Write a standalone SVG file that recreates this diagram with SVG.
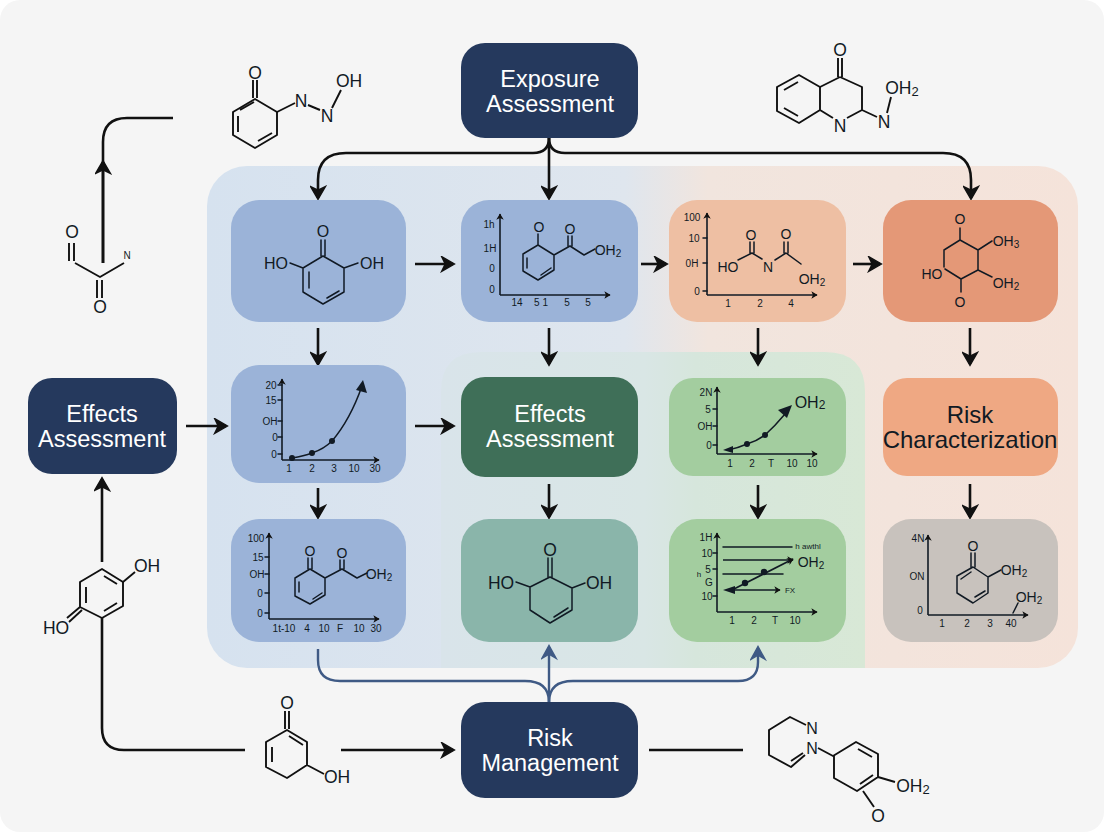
<svg xmlns="http://www.w3.org/2000/svg" width="1104" height="832" viewBox="0 0 1104 832">
<defs>
<linearGradient id="panelBack" x1="207" x2="1078" y1="0" y2="0" gradientUnits="userSpaceOnUse">
<stop offset="0" stop-color="#d6e2ef"/><stop offset="0.48" stop-color="#dfe6ee"/><stop offset="0.575" stop-color="#f1e5de"/><stop offset="1" stop-color="#f5e3da"/>
</linearGradient>
<linearGradient id="panelGreen" x1="441" x2="865" y1="0" y2="0" gradientUnits="userSpaceOnUse">
<stop offset="0" stop-color="#d9e4ea"/><stop offset="0.48" stop-color="#d9e6e5"/><stop offset="0.6" stop-color="#d6e6dc"/><stop offset="1" stop-color="#d8e8d6"/>
</linearGradient>
<marker id="arr" viewBox="0 0 12 12" refX="10" refY="6" markerWidth="7.5" markerHeight="7.5" orient="auto" markerUnits="userSpaceOnUse">
<path d="M1,0 L11,6 L1,12 L3.5,6 Z" fill="#111"/>
</marker>
<marker id="big" viewBox="0 0 12 12" refX="10" refY="6" markerWidth="17" markerHeight="17" orient="auto" markerUnits="userSpaceOnUse">
<path d="M2,0.8 L11,6 L2,11.2 L4.5,6 Z" fill="#111" stroke="#111" stroke-width="1"/>
</marker>
<marker id="blue" viewBox="0 0 12 12" refX="10" refY="6" markerWidth="17" markerHeight="17" orient="auto" markerUnits="userSpaceOnUse">
<path d="M2,1 L11,6 L2,11 L5,6 Z" fill="#3f5a85" stroke="#3f5a85"/>
</marker>
</defs>
<style>
text{font-family:"Liberation Sans",Arial,sans-serif;fill:#111a24;text-anchor:middle;dominant-baseline:central}
.b{fill:none;stroke:#111a24;stroke-width:1.5;stroke-linejoin:round;stroke-linecap:round}
.k{fill:none;stroke:#111;stroke-width:1.9;stroke-linejoin:round}
.ax{fill:none;stroke:#111a24;stroke-width:1.6;marker-end:url(#arr)}
.c{fill:none;stroke:#111;stroke-width:2.6;marker-end:url(#big)}
.cn{fill:none;stroke:#111;stroke-width:2.6}
.cb{fill:none;stroke:#3f5a85;stroke-width:2.4}
text.t{fill:#fff;font-size:23.5px}
.a{font-size:17.5px}.m{font-size:16px}.n{font-size:14px}.s{font-size:10px}.ss{font-size:8px}
.navy{fill:#25395d}.blu{fill:#9bb3d8}
</style>
<rect width="1104" height="832" fill="#ffffff"/>
<rect x="0" y="0" width="1104" height="832" rx="20" fill="#f5f5f5"/>
<rect id="panel-back" x="207" y="166" width="871" height="502" rx="40" fill="url(#panelBack)"/>
<path id="panel-green" d="M441,668 V392 Q441,352 481,352 H825 Q865,352 865,392 V668 Z" fill="url(#panelGreen)"/>

<g id="connectors">
<path class="c" d="M549,138 Q549,153 533,153 H346 Q318,153 318,180 V198"/>
<path class="c" d="M549,138 Q549,153 565,153 H943 Q971,153 971,180 V198"/>
<path class="c" d="M549,138 V198"/>
<path class="c" d="M415,264 H453"/><path class="c" d="M641,264 H666"/><path class="c" d="M853,264 H880"/>
<path class="c" d="M318,328 V364"/><path class="c" d="M549,328 V364"/><path class="c" d="M758,328 V364"/><path class="c" d="M970,328 V364"/>
<path class="c" d="M318,488 V517"/><path class="c" d="M549,484 V517"/><path class="c" d="M758,485 V517"/><path class="c" d="M970,484 V517"/>
<path class="c" d="M186,426 H226"/><path class="c" d="M415,426 H453"/>
<path class="cn" d="M173,118 H127 Q103,118 103,142 V263"/>
<path class="c" d="M103,263 V162"/>
<path class="c" d="M102,562 V479"/>
<path class="cn" d="M102,618 V728 Q102,750 124,750 H245"/>
<path class="c" d="M341,750 H453"/>
<path class="cn" d="M649,750 H743"/>
<path class="cb" d="M318,649 V660 Q318,681 340,681 H525 Q549,681 549,702"/>
<path class="cb" d="M549,702 Q549,681 573,681 H738 Q758,681 758,662 V648" marker-end="url(#blue)"/>
<path class="cb" d="M549,702 V647" marker-end="url(#blue)"/>
</g>

<g id="node-exposure"><rect class="navy" x="461" y="43" width="177" height="95" rx="24"/><text class="t" x="550" y="79">Exposure</text><text class="t" x="550" y="104">Assessment</text></g>
<g id="node-effects-left"><rect class="navy" x="28" y="378" width="149" height="96" rx="24"/><text class="t" x="102" y="414">Effects</text><text class="t" x="102" y="439">Assessment</text></g>
<g id="node-risk-management"><rect class="navy" x="461" y="702" width="177" height="96" rx="24"/><text class="t" x="550" y="738">Risk</text><text class="t" x="550" y="763">Management</text></g>

<g id="mol-top-left">
<path class="k" d="M253,80 V98 M257,80 V98 M255,99 L277,112 V135 L255,148 L233,135 V112 Z M238,116 V132 M240,110 L254,102 M258,141 L272,133 M277,112 L295,103 M308,105 L320,110 M332,108 L341,90"/>
<text class="a" x="255" y="73">O</text><text class="a" x="301" y="101">N</text><text class="a" x="327" y="116">N</text><text class="a" x="349" y="81">OH</text>
</g>
<g id="mol-left">
<path class="k" d="M69,243 V261 M74,243 V261 M75,263 L100,277 L124,263 M97,280 V298 M102,280 V298"/>
<text class="a" x="72" y="232">O</text><text class="s" x="127" y="255">N</text><text class="a" x="100" y="307">O</text>
</g>
<g id="mol-top-right">
<path class="k" d="M838,58 V77 M842,58 V77 M840,77 L862,87 V110 L847,118 M833,118 L820,110 V87 L840,77 M820,87 L799,75 L777,87 V111 L799,123 L820,110 M784,90 L798,82 M784,108 L798,116 M862,110 L877,117 M887,113 L891,97"/>
<text class="a" x="840" y="50">O</text><text class="a" x="840" y="126">N</text><text class="a" x="884" y="122">N</text><text class="a" x="902" y="88">OH<tspan font-size="13" dy="3">2</tspan></text>
</g>
<g id="mol-lower-left">
<path class="k" d="M102,569 L123,582 V606 L102,618 L80,607 V582 Z M86,587 V603 M104,576 L117,584 M104,611 L117,603 M123,582 L135,572 M80,607 L67,618 M82,610 L69,622"/>
<text class="a" x="147" y="566">OH</text><text class="a" x="56" y="628">HO</text>
</g>
<g id="mol-bottom">
<path class="k" d="M285,711 V729 M289,711 V729 M287,730 L307,742 V765 L287,778 L266,767 V742 Z M272,747 V762 M289,736 L303,745 M307,765 L324,774"/>
<text class="a" x="287" y="703">O</text><text class="a" x="337" y="777">OH</text>
</g>
<g id="mol-bottom-right">
<path class="k" d="M806,725 L790,717 L769,730 V755 L791,767 L805,755 M791,761 L803,753 M818,748 L833,756 L856,742 L878,754 V777 L857,791 L834,778 V756 M858,749 L872,757 M860,784 L873,775 M878,777 L895,782 M863,791 L874,807"/>
<text class="m" x="812" y="728">N</text><text class="m" x="812" y="748">N</text><text class="a" x="913" y="786">OH<tspan font-size="13" dy="3">2</tspan></text><text class="a" x="878" y="816">O</text>
</g>

<g id="node-1-1"><rect class="blu" x="231" y="200" width="175" height="122" rx="28"/>
<path class="b" d="M321,240 V256 M325,240 V256 M323,256 L344,268 V292 L323,304 L303,292 V268 Z M309,272 V288 M327,298 L339,291 M303,268 L290,263 M344,268 L358,263"/>
<text class="m" x="323" y="231">O</text><text class="m" x="276" y="263">HO</text><text class="m" x="372" y="263">OH</text></g>

<g id="node-1-2"><rect class="blu" x="461" y="200" width="177" height="122" rx="28"/>
<path class="ax" d="M500,295 V214"/><path class="ax" d="M500,295 H610"/>
<path class="b" d="M538,234 V245 M538,245 L554,255 V270 L538,280 L523,271 V254 Z M527,258 V268 M541,275 L551,268 M554,255 L570,246 L584,255 L595,249 M568,236 V246 M572,236 V246"/>
<text class="n" x="539" y="227">O</text><text class="n" x="570" y="229">O</text><text class="n" x="608" y="250">OH<tspan font-size="10" dy="3">2</tspan></text>
<text class="s" x="489" y="224">1h</text><text class="s" x="490" y="248">1H</text><text class="s" x="492" y="268">0</text><text class="s" x="492" y="289">0</text>
<text class="s" x="517" y="302">14</text><text class="s" x="541" y="302">5 1</text><text class="s" x="567" y="302">5</text><text class="s" x="588" y="302">5</text></g>

<g id="node-1-3"><rect x="669" y="200" width="177" height="122" rx="28" fill="#eebfa3"/>
<path class="ax" d="M707,295 V213"/><path class="ax" d="M707,295 H817"/>
<path class="b" d="M703,238 H707 M703,263 H707 M703,291 H707 M738,260 L752,253 L762,259 M750,242 V253 M754,242 V253 M775,260 L786,253 L801,264 M784,242 V253 M788,242 V253"/>
<text class="n" x="728" y="267">HO</text><text class="n" x="751" y="235">O</text><text class="n" x="768" y="267">N</text><text class="n" x="786" y="234">O</text><text class="n" x="812" y="279">OH<tspan font-size="10" dy="3">2</tspan></text>
<text class="s" x="692" y="217">100</text><text class="s" x="694" y="238">10</text><text class="s" x="692" y="263">0H</text><text class="s" x="697" y="291">0</text>
<text class="s" x="728" y="303">1</text><text class="s" x="760" y="303">2</text><text class="s" x="791" y="303">4</text></g>

<g id="node-1-4"><rect x="883" y="200" width="175" height="122" rx="28" fill="#e49877"/>
<path class="b" d="M960,228 V240 L978,250 V270 L961,279 L945,269 M944,267 V250 L960,240 M978,250 L992,241 M978,270 L992,277 M961,279 V292"/>
<text class="n" x="960" y="219">O</text><text class="n" x="1006" y="241">OH<tspan font-size="10" dy="3">3</tspan></text><text class="n" x="1006" y="283">OH<tspan font-size="10" dy="3">2</tspan></text><text class="n" x="932" y="274">HO</text><text class="n" x="960" y="302">O</text></g>

<g id="node-2-1"><rect class="blu" x="231" y="365" width="175" height="118" rx="28"/>
<path class="ax" d="M282,460 V379"/><path class="ax" d="M282,460 H379"/>
<path class="b" d="M278,385 H282 M278,400 H282 M278,421 H282 M278,437 H282 M278,454 H282"/>
<path class="b" d="M292,458 Q304,456 312,453 Q324,449 332,441 Q350,420 362,386"/>
<path d="M363,380 L367,393 L356,390 Z" fill="#111a24"/>
<circle cx="292" cy="458" r="3" fill="#111a24"/><circle cx="312" cy="453" r="3" fill="#111a24"/><circle cx="332" cy="441" r="3" fill="#111a24"/>
<text class="s" x="271" y="385">20</text><text class="s" x="271" y="400">15</text><text class="s" x="270" y="421">OH</text><text class="s" x="275" y="437">0</text><text class="s" x="274" y="454">0</text>
<text class="s" x="289" y="468">1</text><text class="s" x="312" y="468">2</text><text class="s" x="334" y="468">3</text><text class="s" x="354" y="468">10</text><text class="s" x="375" y="468">30</text></g>

<g id="node-2-2"><rect x="461" y="377" width="177" height="100" rx="24" fill="#3f6f58"/><text class="t" x="550" y="414">Effects</text><text class="t" x="550" y="439">Assessment</text></g>

<g id="node-2-3"><rect x="669" y="378" width="177" height="98" rx="24" fill="#a3cd9f"/>
<path class="ax" d="M717,454 V387"/><path class="ax" d="M717,454 H817"/>
<path class="b" d="M713,409 H717 M713,426 H717 M713,445 H717"/>
<path class="b" d="M728,450 Q738,448 747,444 Q757,441 765,435 Q775,426 785,414"/>
<path d="M792,405 L787,418 L778,410 Z" fill="#111a24"/>
<circle cx="747" cy="444" r="3" fill="#111a24"/><circle cx="765" cy="435" r="3" fill="#111a24"/><path d="M723,450 L733,446 L733,453 Z" fill="#111a24"/>
<text class="m" x="810" y="402">OH<tspan font-size="12" dy="3">2</tspan></text>
<text class="s" x="706" y="392">2N</text><text class="s" x="708" y="409">5</text><text class="s" x="705" y="426">OH</text><text class="s" x="709" y="445">0</text>
<text class="s" x="730" y="463">1</text><text class="s" x="752" y="463">2</text><text class="s" x="771" y="463">T</text><text class="s" x="792" y="463">10</text><text class="s" x="812" y="463">10</text></g>

<g id="node-2-4"><rect x="883" y="378" width="175" height="98" rx="24" fill="#efa883"/><text x="970" y="414" font-size="24">Risk</text><text x="970" y="439" font-size="24">Characterization</text></g>

<g id="node-3-1"><rect class="blu" x="231" y="519" width="175" height="123" rx="28"/>
<path class="ax" d="M269,619 V533"/><path class="ax" d="M269,619 H379"/>
<path class="b" d="M265,557 H269 M265,574 H269 M265,593 H269 M265,613 H269"/>
<path class="b" d="M308,558 V569 M312,558 V569 M310,569 L325,578 V595 L310,604 L295,596 V578 Z M299,582 V592 M313,599 L322,593 M325,578 L342,569 L357,578 L367,573 M340,560 V569 M344,560 V569"/>
<text class="n" x="310" y="551">O</text><text class="n" x="342" y="553">O</text><text class="n" x="379" y="574">OH<tspan font-size="10" dy="3">2</tspan></text>
<text class="s" x="256" y="538">100</text><text class="s" x="258" y="557">15</text><text class="s" x="257" y="574">OH</text><text class="s" x="260" y="593">0</text><text class="s" x="260" y="613">0</text>
<text class="s" x="284" y="628">1t-10</text><text class="s" x="307" y="628">4</text><text class="s" x="324" y="628">10</text><text class="s" x="340" y="628">F</text><text class="s" x="359" y="628">10</text><text class="s" x="376" y="628">30</text></g>

<g id="node-3-2"><rect x="461" y="519" width="177" height="123" rx="28" fill="#8ab5aa"/>
<path class="b" d="M548,558 V577 M552,558 V577 M550,577 L572,588 V610 L550,623 L530,610 V587 Z M554,617 L568,608 M530,587 L516,582 M572,588 L585,583"/>
<text class="a" x="550" y="550">O</text><text class="a" x="501" y="583">HO</text><text class="a" x="599" y="583">OH</text></g>

<g id="node-3-3"><rect x="669" y="519" width="177" height="123" rx="28" fill="#a3cd9f"/>
<path class="ax" d="M717,612 V533"/><path class="ax" d="M717,612 H817"/>
<path class="b" d="M713,553 H717 M713,569 H717 M713,596 H717 M723,547 H792 M723,574 H783"/>
<path class="ax" d="M723,560 H793"/><path class="ax" d="M731,590 H780"/><path d="M723,590 L735,586 V594 Z" fill="#111a24"/>
<path class="ax" d="M732,590 L793,559"/>
<circle cx="745" cy="583" r="3.2" fill="#111a24"/><circle cx="764" cy="572" r="3.2" fill="#111a24"/>
<text class="ss" x="808" y="546">h awthl</text><text class="n" x="811" y="562">OH<tspan font-size="10" dy="3">2</tspan></text><text class="ss" x="790" y="590">FX</text>
<text class="s" x="706" y="537">1H</text><text class="s" x="707" y="553">10</text><text class="s" x="708" y="569">5</text><text class="ss" x="699" y="574">h</text><text class="s" x="709" y="582">G</text><text class="s" x="707" y="596">10</text>
<text class="s" x="732" y="620">1</text><text class="s" x="754" y="620">2</text><text class="s" x="775" y="620">T</text><text class="s" x="795" y="620">10</text></g>

<g id="node-3-4"><rect x="883" y="519" width="175" height="123" rx="28" fill="#c8c2bd"/>
<path class="ax" d="M928,615 V535"/><path class="ax" d="M928,615 H1028"/>
<path class="b" d="M971,553 V567 M975,553 V567 M973,567 L988,577 V593 L973,603 L957,593 V576 Z M961,579 L971,572 M975,597 L985,591 M988,577 L1001,570 M1013,613 L1018,603"/>
<text class="n" x="973" y="546">O</text><text class="n" x="1014" y="570">OH<tspan font-size="10" dy="3">2</tspan></text><text class="n" x="1029" y="597">OH<tspan font-size="10" dy="3">2</tspan></text>
<text class="s" x="918" y="538">4N</text><text class="s" x="917" y="576">ON</text><text class="s" x="920" y="610">0</text>
<text class="s" x="942" y="623">1</text><text class="s" x="967" y="623">2</text><text class="s" x="990" y="623">3</text><text class="s" x="1011" y="623">40</text></g>
</svg>
